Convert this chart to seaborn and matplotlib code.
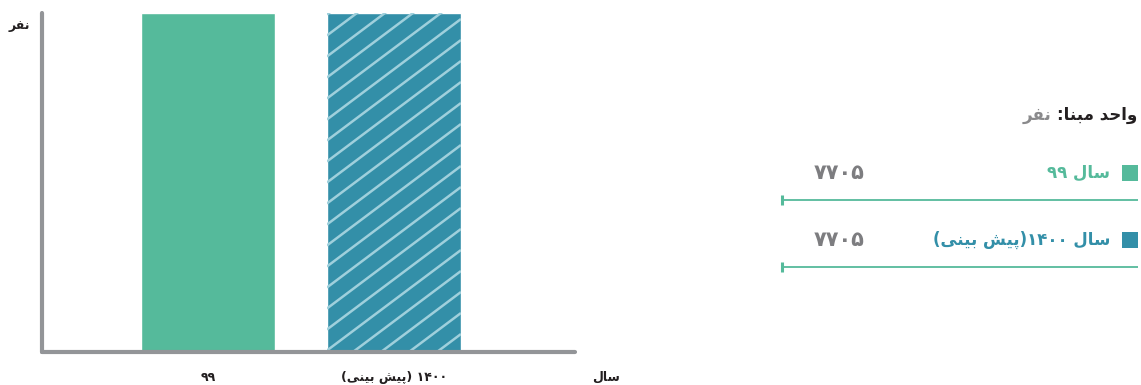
import re
import numpy as np
import matplotlib
matplotlib.use('Agg')
import matplotlib.pyplot as plt
from matplotlib.transforms import IdentityTransform
import pandas as pd
import seaborn as sns

# --- data ---
years = ['۹۹', '۱۴۰۰ (پیش بینی)']
legend_names = ['سال ۹۹', 'سال ۱۴۰۰(پیش بینی)']
people = [7705, 7705]
bar_colors = ['#55BA9B', '#338FA8']
unit_label = 'واحد مبنا:'
unit_value = 'نفر'
y_title = 'نفر'
x_title = 'سال'

# --- minimal Persian shaping (matplotlib has no complex text layout) ---
# isolated, final, initial, medial
FORMS = {
    '\u0627': ('\uFE8D', '\uFE8E', None, None),
    '\u0628': ('\uFE8F', '\uFE90', '\uFE91', '\uFE92'),
    '\u067E': ('\uFB56', '\uFB57', '\uFB58', '\uFB59'),
    '\u062D': ('\uFEA1', '\uFEA2', '\uFEA3', '\uFEA4'),
    '\u062F': ('\uFEA9', '\uFEAA', None, None),
    '\u0631': ('\uFEAD', '\uFEAE', None, None),
    '\u0633': ('\uFEB1', '\uFEB2', '\uFEB3', '\uFEB4'),
    '\u0634': ('\uFEB5', '\uFEB6', '\uFEB7', '\uFEB8'),
    '\u0641': ('\uFED1', '\uFED2', '\uFED3', '\uFED4'),
    '\u0644': ('\uFEDD', '\uFEDE', '\uFEDF', '\uFEE0'),
    '\u0645': ('\uFEE1', '\uFEE2', '\uFEE3', '\uFEE4'),
    '\u0646': ('\uFEE5', '\uFEE6', '\uFEE7', '\uFEE8'),
    '\u0648': ('\uFEED', '\uFEEE', None, None),
    '\u06CC': ('\uFBFC', '\uFBFD', '\uFBFE', '\uFBFF'),
    '\u064A': ('\uFBFC', '\uFBFD', '\uFBFE', '\uFBFF'),
}


def fa(text):
    out = []
    for i, ch in enumerate(text):
        f = FORMS.get(ch)
        if f is None:
            out.append(ch)
            continue
        prev = text[i - 1] if i > 0 else ''
        nxt = text[i + 1] if i + 1 < len(text) else ''
        join_prev = prev in FORMS and FORMS[prev][2] is not None
        join_next = f[2] is not None and nxt in FORMS
        if join_prev and join_next:
            out.append(f[3])
        elif join_prev:
            out.append(f[1])
        elif join_next:
            out.append(f[2])
        else:
            out.append(f[0])
    shaped = ''.join(out)
    runs = re.findall(r'[0-9\u06F0-\u06F9]+|[^0-9\u06F0-\u06F9]+', shaped)
    mirror = str.maketrans('()', ')(')
    vis = []
    for r in reversed(runs):
        vis.append(r if r[0].isdigit() else r[::-1].translate(mirror))
    return ''.join(vis)


def fa_num(n):
    return str(n).translate(str.maketrans('0123456789', '۰۱۲۳۴۵۶۷۸۹'))


sns.set_style('white')
plt.rcParams['font.family'] = ['DejaVu Sans']
plt.rcParams['font.weight'] = 'bold'

W, H = 1141, 385
fig = plt.figure(figsize=(W / 100, H / 100), dpi=100)
ax = fig.add_axes([42 / W, 1 - 352 / H, (575 - 42) / W, (352 - 13) / H])

df = pd.DataFrame({'year': [fa(y) for y in years], 'people': people})
sns.barplot(data=df, x='year', y='people', hue='year', palette=bar_colors,
            saturation=1, width=0.72, legend=False, ax=ax)

ax.set_ylim(0, max(people))
ax.set_xlim(-0.892, 1.973)
sns.despine(ax=ax)
for s in ['left', 'bottom']:
    ax.spines[s].set_color('#939598')
    ax.spines[s].set_linewidth(3)
    ax.spines[s].set_capstyle('round')
ax.set_yticks([])
ax.tick_params(axis='x', length=0, pad=14, labelsize=9, labelcolor='#231F20')
ax.set_xlabel('')
ax.set_ylabel('')

# forecast bar: light diagonal stripes (~37 deg), clipped to the bar
fig.canvas.draw()
fc = ax.patches[1]
bb = fc.get_window_extent()
slope, gap = 0.75, 21
span = bb.height + slope * bb.width
for off in np.arange(-span, bb.height + gap, gap):
    xs = [bb.x0, bb.x1]
    ys = [bb.y0 + off, bb.y0 + off + slope * bb.width]
    ln = ax.plot(xs, ys, transform=IdentityTransform(), color='#9FD0DC',
                 lw=1.8, solid_capstyle='butt')[0]
    ln.set_clip_path(fc)

fig.text(30 / W, 1 - 25 / H, fa(y_title), ha='right', va='center',
         fontsize=9, color='#231F20')
fig.text(620 / W, 1 - 377 / H, fa(x_title), ha='right', va='center',
         fontsize=9, color='#231F20')

# --- right-hand summary panel ---
panel = fig.add_axes([0, 0, 1, 1], facecolor='none')
panel.set_xlim(0, W)
panel.set_ylim(H, 0)
panel.axis('off')

head = panel.text(1137, 115, fa(unit_label), ha='right', va='center',
                  fontsize=12, color='#231F20')
panel.annotate(fa(unit_value) + ' ', xy=(0, 0.5), xycoords=head,
               ha='right', va='center', fontsize=12, color='#8A8A8C')

row_y = [173, 240]
for name, val, col, y in zip(legend_names, people, bar_colors, row_y):
    panel.scatter([1130], [y], marker='s', s=130, color=col, linewidths=0)
    panel.text(1110, y, fa(name), ha='right', va='center', fontsize=12,
               color=col)
    panel.text(839, y, fa_num(val), ha='center', va='center',
               fontsize=15, color='#7D7D80')
    panel.plot([782, 1138], [y + 27, y + 27], color='#55BA9B', lw=1.3,
               solid_capstyle='butt')
    panel.plot([782], [y + 27], marker='|', ms=7, mew=2.2, color='#55BA9B')

fig.savefig('out.png', dpi=100)
